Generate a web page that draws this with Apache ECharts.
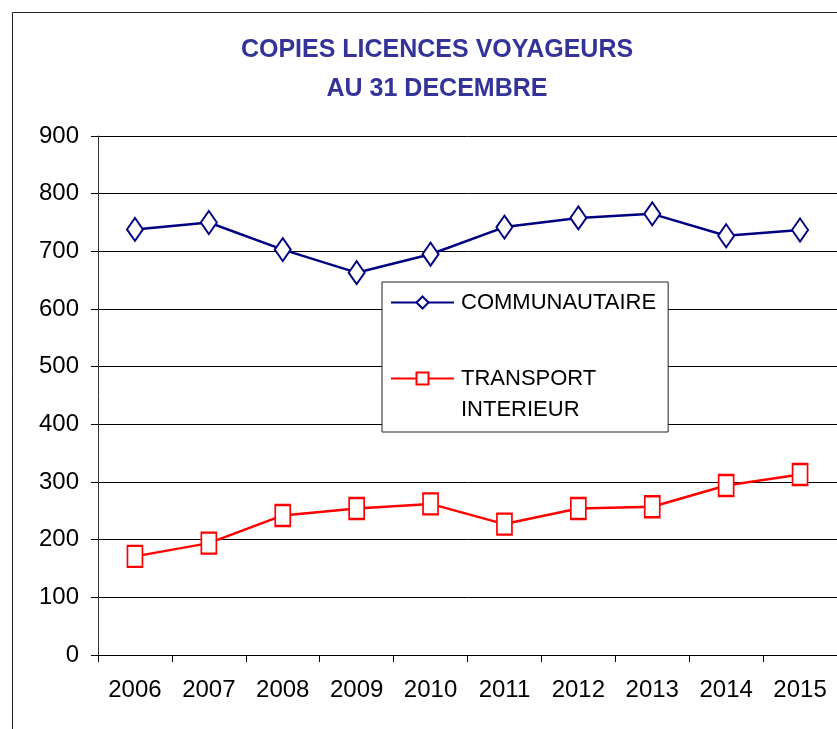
<!DOCTYPE html>
<html>
<head>
<meta charset="utf-8">
<script src="https://cdn.jsdelivr.net/npm/echarts@6/dist/echarts.min.js"></script>
<style>
  html, body { margin: 0; padding: 0; background: #fff; }
  #chart { width: 837px; height: 729px; }
</style>
</head>
<body>
<div id="chart"></div>
<script>
// donnees
var years = ['2006', '2007', '2008', '2009', '2010', '2011', '2012', '2013', '2014', '2015'];
var communautaire = [738, 750, 703, 663, 695, 742, 758, 765, 727, 737];
var transportInterieur = [171, 194, 242, 254, 262, 227, 254, 257, 294, 313];
var seriesNames = ['COMMUNAUTAIRE', 'TRANSPORT INTERIEUR'];

var font = "'Liberation Sans', Arial, sans-serif";
var myChart = echarts.init(document.getElementById('chart'));

var option = {
    backgroundColor: '#fff',
    animation: false,
    title: {
        text: 'COPIES LICENCES VOYAGEURS\nAU 31 DECEMBRE',
        left: 432,
        top: 26,
        textAlign: 'center',
        textStyle: {
            color: '#333399',
            fontFamily: font,
            fontWeight: 'bold',
            fontSize: 25,
            lineHeight: 38.6
        }
    },
    graphic: [
        {
            type: 'rect',
            shape: { x: 12.5, y: 12.5, width: 900, height: 800 },
            style: { fill: 'none', stroke: '#222', lineWidth: 1 },
            silent: true
        }
    ],
    legend: {
        orient: 'vertical',
        left: 382,
        top: 282,
        padding: [5, 12, 7, 8],
        itemGap: 14,
        itemWidth: 63,
        itemHeight: 15,
        borderColor: '#222',
        borderWidth: 1,
        backgroundColor: '#fff',
        data: seriesNames,
        formatter: function (name) {
            if (name === 'TRANSPORT INTERIEUR') return '\nTRANSPORT\nINTERIEUR';
            return name;
        },
        textStyle: {
            color: '#000',
            fontFamily: font,
            fontSize: 22,
            lineHeight: 31,
            padding: [0, 0, 0, 2]
        }
    },
    grid: {
        left: 98,
        right: 0,
        top: 136,
        bottom: 74
    },
    xAxis: {
        type: 'category',
        data: years,
        boundaryGap: true,
        axisLine: { lineStyle: { color: '#000', width: 1 } },
        axisTick: { show: true, length: 7, alignWithLabel: false, lineStyle: { color: '#000' } },
        axisLabel: { color: '#000', fontFamily: font, fontSize: 24, margin: 23 },
        splitLine: { show: false }
    },
    yAxis: {
        type: 'value',
        min: 0,
        max: 900,
        interval: 100,
        axisLine: { show: true, lineStyle: { color: '#333', width: 1 } },
        axisTick: { show: true, length: 7, lineStyle: { color: '#000' } },
        axisLabel: { color: '#000', fontFamily: font, fontSize: 24, margin: 19 },
        splitLine: { show: true, lineStyle: { color: '#000', width: 1 } }
    },
    series: [
        {
            name: seriesNames[0],
            type: 'line',
            data: communautaire,
            symbol: 'diamond',
            symbolSize: [16, 23],
            showAllSymbol: true,
            color: '#000080',
            lineStyle: { color: '#000080', width: 2.5 },
            itemStyle: { color: '#fff', borderColor: '#000080', borderWidth: 2 },
            z: 3
        },
        {
            name: seriesNames[1],
            type: 'line',
            data: transportInterieur,
            symbol: 'rect',
            symbolSize: [15, 21],
            showAllSymbol: true,
            color: '#ff0000',
            lineStyle: { color: '#ff0000', width: 2.5 },
            itemStyle: { color: '#fff', borderColor: '#ff0000', borderWidth: 2 },
            z: 3
        }
    ]
};

myChart.setOption(option);
</script>
</body>
</html>
